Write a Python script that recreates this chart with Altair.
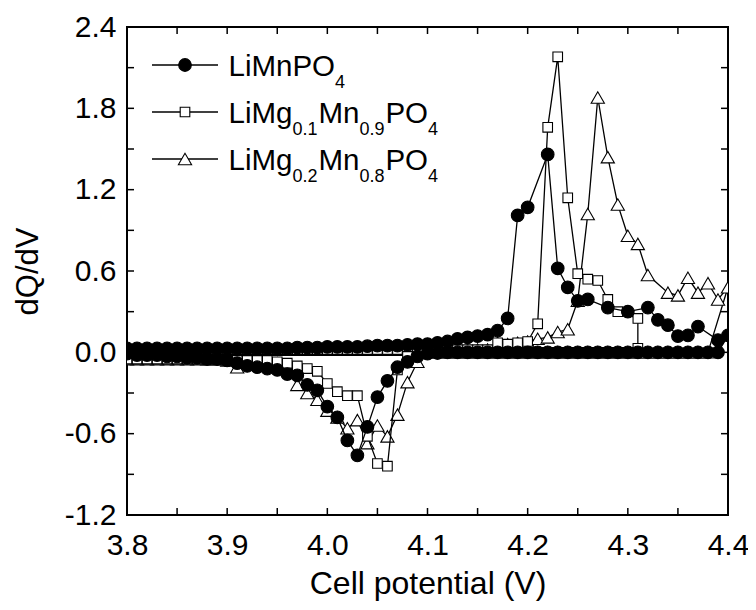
import altair as alt
import pandas as pd

# ---------------- data ----------------
v_grid = [3.80, 3.81, 3.82, 3.83, 3.84, 3.85, 3.86, 3.87, 3.88, 3.89,
          3.90, 3.91, 3.92, 3.93, 3.94, 3.95, 3.96, 3.97, 3.98, 3.99,
          4.00, 4.01, 4.02, 4.03, 4.04, 4.05, 4.06, 4.07, 4.08, 4.09,
          4.10, 4.11, 4.12, 4.13, 4.14, 4.15, 4.16, 4.17, 4.18, 4.19,
          4.20, 4.21, 4.22, 4.23, 4.24, 4.25, 4.26, 4.27, 4.28, 4.29,
          4.30, 4.31, 4.32, 4.33, 4.34, 4.35, 4.36, 4.37, 4.38, 4.39, 4.40]

# LiMnPO4 (filled circles)
mn_chg_v = v_grid[:39] + [4.19, 4.20, 4.22, 4.23, 4.24, 4.25, 4.26, 4.28, 4.30,
                          4.32, 4.33, 4.34, 4.35, 4.36, 4.37, 4.39, 4.40]
mn_chg_q = ([0.03] * 17 + [0.035] * 3 + [0.04] * 4 + [0.045] + [0.05] * 3 + [0.055]
            + [0.06, 0.06, 0.07, 0.08, 0.10, 0.11, 0.12, 0.13, 0.16, 0.25]
            + [1.01, 1.07, 1.46, 0.62, 0.48, 0.38, 0.39, 0.33, 0.30,
               0.33, 0.24, 0.20, 0.12, 0.125, 0.19, 0.09, 0.125])
mn_dis_v = v_grid[:60][::-1]
mn_dis_q = ([0.0] * 28
            + [-0.005, -0.01, -0.03, -0.07, -0.11, -0.21, -0.33, -0.55, -0.76, -0.65,
               -0.48, -0.40, -0.28, -0.24, -0.17, -0.16, -0.13, -0.12, -0.11, -0.10,
               -0.08, -0.06, -0.05, -0.05, -0.04, -0.04, -0.03, -0.03, -0.02, -0.02,
               -0.02, -0.01])

# LiMg0.1Mn0.9PO4 (open squares)
sq_chg_v = v_grid[:50] + [4.31]
sq_chg_q = ([0.02] * 37
            + [0.07, 0.06, 0.07, 0.08, 0.21, 1.66, 2.18, 1.14, 0.58, 0.54, 0.53, 0.39, 0.30]
            + [0.25])
sq_dis_v = v_grid[:52][::-1]
sq_dis_q = ([0.03] + [0.0] * 21
            + [-0.01, -0.03, -0.13, -0.84, -0.82, -0.62, -0.32, -0.32, -0.29, -0.23,
               -0.14, -0.12, -0.10, -0.08, -0.07, -0.06]
            + [-0.06] * 4 + [-0.05] * 10)

# LiMg0.2Mn0.8PO4 (open triangles)
tr_chg_v = v_grid[:53] + v_grid[54:]
tr_chg_q = ([0.02] * 37
            + [0.07, 0.06, 0.07, 0.08, 0.10, 0.11, 0.15, 0.17, 0.38, 1.02, 1.88, 1.44,
               1.09, 0.86, 0.80, 0.57]
            + [0.44, 0.42, 0.55, 0.44, 0.51, 0.39, 0.48])
tr_dis_v = v_grid[:59][::-1]
tr_dis_q = ([0.0] * 29
            + [-0.07, -0.22, -0.46, -0.62, -0.54, -0.67, -0.50, -0.56, -0.48, -0.43,
               -0.35, -0.30, -0.24, -0.11, -0.08, -0.07, -0.07, -0.06, -0.11, -0.06]
            + [-0.05] * 10)

series_names = ["LiMnPO4", "LiMg0.1Mn0.9PO4", "LiMg0.2Mn0.8PO4"]

x_label_values = [3.8, 3.9, 4.0, 4.1, 4.2, 4.3, 4.4]
y_label_values = [-1.2, -0.6, 0.0, 0.6, 1.2, 1.8, 2.4]
x_tick_values = [3.85, 3.90, 3.95, 4.00, 4.05, 4.10, 4.15, 4.20, 4.25, 4.30, 4.35]
y_tick_values = [-0.9, -0.6, -0.3, 0.0, 0.3, 0.6, 0.9, 1.2, 1.5, 1.8, 2.1]


def make_df(name, v1, q1, v2, q2):
    assert len(v1) == len(q1) and len(v2) == len(q2), name
    v = list(v1) + list(v2)
    q = list(q1) + list(q2)
    return pd.DataFrame({"V": v, "dQ": q, "series": name, "idx": range(len(v))})


df_mn = make_df(series_names[0], mn_chg_v, mn_chg_q, mn_dis_v, mn_dis_q)
df_sq = make_df(series_names[1], sq_chg_v, sq_chg_q, sq_dis_v, sq_dis_q)
df_tr = make_df(series_names[2], tr_chg_v, tr_chg_q, tr_dis_v, tr_dis_q)

# ---------------- layout ----------------
W, H = 601, 488
FONT = "Liberation Sans"
TICK = 7

x_axis = alt.Axis(values=x_label_values, format=".1f", labelFontSize=30, labelFont=FONT,
                  labelColor="black", ticks=False, tickSize=0, domain=False, grid=False,
                  labelPadding=15, labelFlush=False, labelOverlap=False,
                  title="Cell potential (V)", titleFontSize=32, titleFont=FONT,
                  titleFontWeight="normal", titleColor="black", titlePadding=8)
y_axis = alt.Axis(values=y_label_values, labelFontSize=30, labelFont=FONT,
                  labelExpr="datum.value < 0 ? '-' + format(-datum.value, '.1f') : format(datum.value, '.1f')",
                  labelColor="black", ticks=False, tickSize=0, domain=False, grid=False,
                  labelPadding=11, labelFlush=False, labelOverlap=False,
                  title="dQ/dV", titleFontSize=31, titleFont=FONT,
                  titleFontWeight="normal", titleColor="black", titlePadding=20)

x_enc = alt.X("V:Q", scale=alt.Scale(domain=[3.8, 4.4], nice=False, zero=False), axis=x_axis)
y_enc = alt.Y("dQ:Q", scale=alt.Scale(domain=[-1.2, 2.4], nice=False, zero=False), axis=y_axis)

SIZE = {"circle": 160, "square": 92, "triangle-up": 175}


def series_layers(df, shape, filled):
    line = alt.Chart(df).mark_line(color="black", strokeWidth=1.3, clip=True).encode(
        x=x_enc, y=y_enc, order="idx:Q")
    pts = alt.Chart(df).mark_point(shape=shape, size=SIZE[shape], filled=True,
                                   fill="black" if filled else "white",
                                   stroke="black", strokeWidth=1.1, opacity=1,
                                   clip=True).encode(x=x_enc, y=y_enc)
    return [line, pts]


# inward ticks on all four sides
xt = pd.DataFrame({"V": x_tick_values})
yt = pd.DataFrame({"dQ": y_tick_values})
tick_layers = [
    alt.Chart(xt).mark_rule(color="black", strokeWidth=1.5).encode(
        x=x_enc, y=alt.value(0), y2=alt.value(TICK)),
    alt.Chart(xt).mark_rule(color="black", strokeWidth=1.5).encode(
        x=x_enc, y=alt.value(H), y2=alt.value(H - TICK)),
    alt.Chart(yt).mark_rule(color="black", strokeWidth=1.5).encode(
        y=y_enc, x=alt.value(0), x2=alt.value(TICK)),
    alt.Chart(yt).mark_rule(color="black", strokeWidth=1.5).encode(
        y=y_enc, x=alt.value(W), x2=alt.value(W - TICK)),
]

# ---------------- legend (drawn by hand for subscripts) ----------------
ARIAL = {"L": 556, "i": 222, "M": 833, "n": 556, "P": 667, "O": 778, "g": 556,
         "0": 556, "1": 556, "2": 556, "4": 556, "8": 556, "9": 556, ".": 278}
F_MAIN, F_SUB = 29.5, 18
one = pd.DataFrame({"a": [0]})


def text_w(s, size):
    return sum(ARIAL[c] for c in s) / 1000.0 * size


legend_rows = [
    ("circle", True, [("LiMnPO", False), ("4", True)]),
    ("square", False, [("LiMg", False), ("0.1", True), ("Mn", False), ("0.9", True),
                       ("PO", False), ("4", True)]),
    ("triangle-up", False, [("LiMg", False), ("0.2", True), ("Mn", False), ("0.8", True),
                            ("PO", False), ("4", True)]),
]
legend_layers = []
row_y = [38, 85, 132]
for (shape, filled, parts), ly in zip(legend_rows, row_y):
    legend_layers.append(alt.Chart(one).mark_rule(color="black", strokeWidth=1.3).encode(
        x=alt.value(25), x2=alt.value(91), y=alt.value(ly)))
    legend_layers.append(alt.Chart(one).mark_point(
        shape=shape, size=SIZE[shape], filled=True, fill="black" if filled else "white",
        stroke="black", strokeWidth=1.1, opacity=1).encode(x=alt.value(58), y=alt.value(ly)))
    tx = 101.5
    for s, sub in parts:
        size = F_SUB if sub else F_MAIN
        yb = ly + 10.5 + (12 if sub else 0)
        legend_layers.append(alt.Chart(one).mark_text(
            align="left", baseline="alphabetic", font=FONT, fontSize=size, color="black").encode(
            x=alt.value(tx), y=alt.value(yb), text=alt.value(s)))
        tx += text_w(s, size) + (1 if sub else 0)

layers = (tick_layers
          + series_layers(df_tr, "triangle-up", False)
          + series_layers(df_sq, "square", False)
          + series_layers(df_mn, "circle", True)
          + legend_layers)

chart = alt.layer(*layers).properties(
    width=W, height=H,
    autosize=alt.AutoSizeParams(type="none"),
    padding={"left": 119, "top": 19, "right": 20, "bottom": 87},
    background="white",
).configure_view(stroke="black", strokeWidth=2)

chart.save("out.html", embed_options={"renderer": "svg", "actions": False})
